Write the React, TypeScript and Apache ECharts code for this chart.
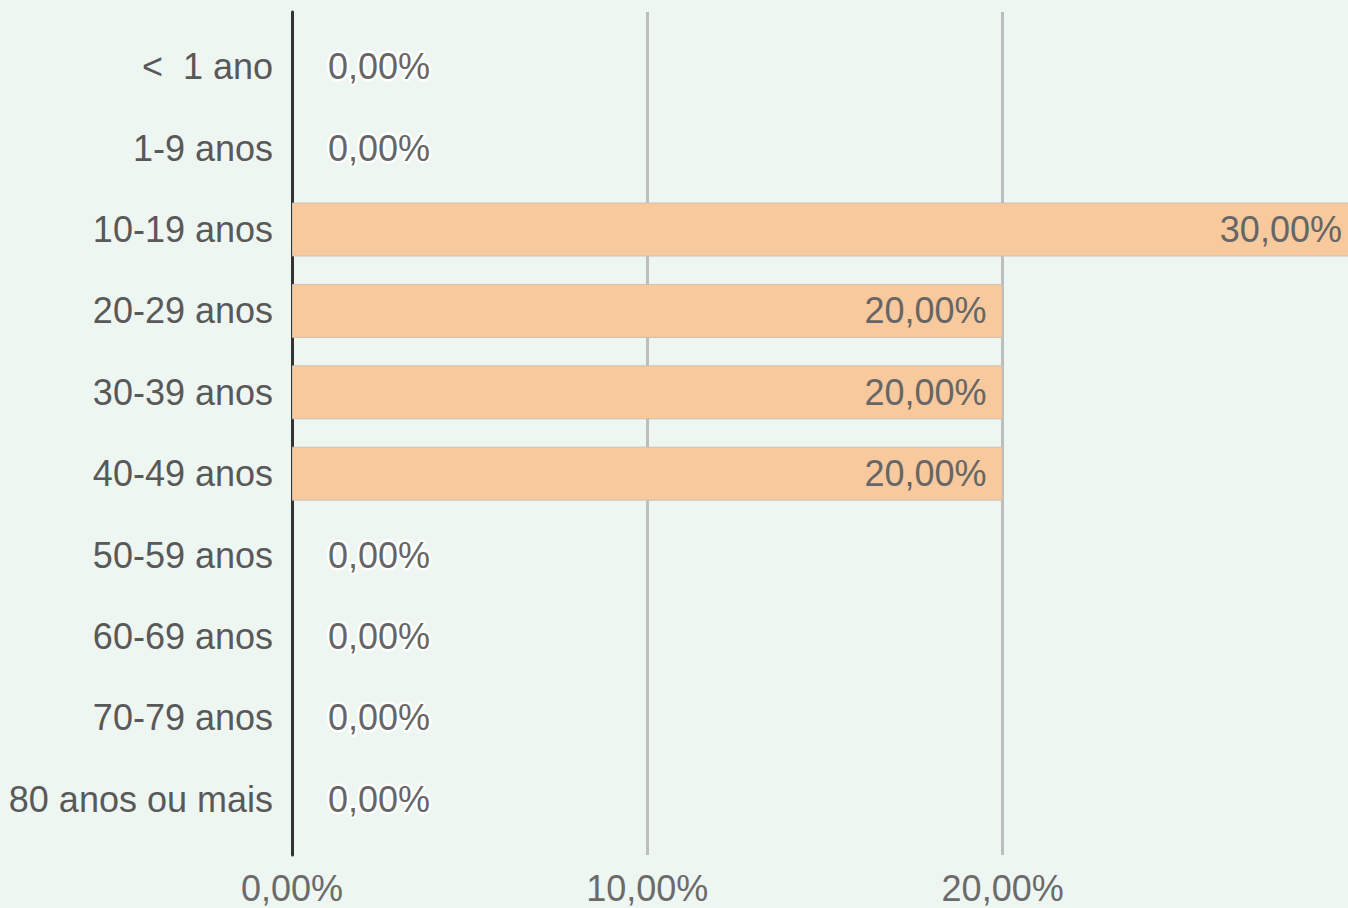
import React, { useEffect, useRef } from "react";
import * as echarts from "echarts";

const categories = [
  "<  1 ano",
  "1-9 anos",
  "10-19 anos",
  "20-29 anos",
  "30-39 anos",
  "40-49 anos",
  "50-59 anos",
  "60-69 anos",
  "70-79 anos",
  "80 anos ou mais",
];
const values = [0, 0, 30, 20, 20, 20, 0, 0, 0, 0];
// visible axis range (the 30% bar runs past the right edge of the picture)
const xTicks = { min: 0, max: 29.72, interval: 10 };

const FONT = "Arial, 'Liberation Sans', sans-serif";
const fmt = (v: number) => v.toFixed(2).replace(".", ",") + "%";

export default function App() {
  const ref = useRef<HTMLDivElement>(null);
  useEffect(() => {
    if (!ref.current) return;
    const chart = echarts.init(ref.current, undefined, { renderer: "svg" });
    chart.setOption({
      animation: false,
      backgroundColor: "#eef6f2",
      grid: [
        { left: 292, top: 26, right: 0, height: 814, containLabel: false },
        { left: 292, top: 12, right: 0, height: 843, containLabel: false },
      ],
      xAxis: [
        {
          type: "value",
          gridIndex: 0,
          min: xTicks.min,
          max: xTicks.max,
          interval: xTicks.interval,
          axisLine: { show: false },
          axisTick: { show: false },
          splitLine: { show: false },
          axisLabel: {
            formatter: (v: number) => fmt(v),
            fontFamily: FONT,
            fontSize: 36,
            color: "#6b6b6b",
            margin: 30,
            showMaxLabel: false,
          },
        },
        {
          type: "value",
          gridIndex: 1,
          min: xTicks.min,
          max: xTicks.max,
          interval: xTicks.interval,
          axisLine: { show: false },
          axisTick: { show: false },
          axisLabel: { show: false },
          splitLine: {
            show: true,
            showMinLine: false,
            showMaxLine: false,
            lineStyle: { color: "#bdbdbd", width: 3 },
          },
        },
      ],
      yAxis: [
        {
          type: "category",
          gridIndex: 0,
          data: categories,
          inverse: true,
          axisLine: { show: false },
          axisTick: { show: false },
          axisLabel: {
            fontFamily: FONT,
            fontSize: 36,
            color: "#595959",
            margin: 19,
          },
        },
        {
          type: "category",
          gridIndex: 1,
          data: categories,
          inverse: true,
          axisLine: { show: true, lineStyle: { color: "#333", width: 3 } },
          axisTick: { show: false },
          axisLabel: { show: false },
        },
      ],
      series: [
        {
          type: "bar",
          xAxisIndex: 0,
          yAxisIndex: 0,
          data: values.map((v) => ({
            value: v,
            itemStyle: v === 0 ? { borderWidth: 0 } : undefined,
            label:
              v === 0
                ? {
                    show: true,
                    position: "right",
                    distance: 36,
                    textBorderColor: "#ffffff",
                    textBorderWidth: 5,
                  }
                : { show: true, position: "insideRight", distance: 16 },
          })),
          barWidth: 54,
          clip: false,
          z: 5,
          itemStyle: {
            color: "#f8c99d",
            borderColor: "#cdbfb2",
            borderWidth: 1,
          },
          label: {
            show: true,
            formatter: (p: any) => fmt(p.value),
            fontFamily: FONT,
            fontSize: 36,
            color: "#666666",
          },
        },
      ],
    });
    return () => chart.dispose();
  }, []);
  return (
    <div
      ref={ref}
      style={{ position: "absolute", left: 0, top: 0, width: 1348, height: 908 }}
    />
  );
}
